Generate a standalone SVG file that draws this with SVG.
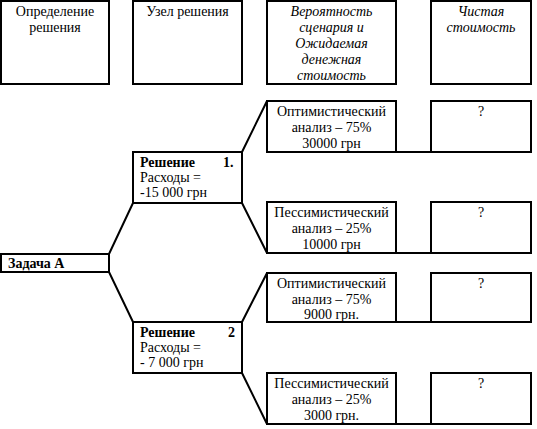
<svg xmlns="http://www.w3.org/2000/svg" width="537" height="429" viewBox="0 0 537 429">
<style>
.b{fill:#fff;stroke:#000;stroke-width:2}
.t{font-family:"Liberation Serif","Times New Roman",serif;font-size:14px;fill:#000}
.c{text-anchor:middle}
.i{font-style:italic}
.bo{font-weight:bold}
.l{stroke:#000;stroke-width:2;fill:none}
</style>
<rect width="537" height="429" fill="#fff"/>
<g id="h1"><rect class="b" x="1" y="1" width="108" height="83"/>
<text class="t c" x="55" y="16">Определение</text><text class="t c" x="55" y="32">решения</text></g>
<g id="h2"><rect class="b" x="133" y="1" width="109" height="83"/>
<text class="t c" x="187.5" y="16">Узел решения</text></g>
<g id="h3"><rect class="b" x="267" y="1" width="129" height="83"/>
<text class="t c i" x="331.5" y="16">Вероятность</text><text class="t c i" x="331.5" y="32">сценария и</text><text class="t c i" x="331.5" y="48">Ожидаемая</text><text class="t c i" x="331.5" y="64">денежная</text><text class="t c i" x="331.5" y="80">стоимость</text></g>
<g id="h4"><rect class="b" x="431" y="1" width="100" height="83"/>
<text class="t c i" x="481" y="16">Чистая</text><text class="t c i" x="481" y="32">стоимость</text></g>
<g id="connectors">
<path class="l" d="M109 254L133 203M109 272L133 322M242 152L267 101M242 203L267 253M242 322L267 273M242 373L267 424M396 152H431M396 253H431M396 322H431M396 424H431"/>
</g>
<g id="task"><rect class="b" x="1" y="254" width="108" height="18"/>
<text class="t bo" x="8" y="268">Задача А</text></g>
<g id="d1"><rect class="b" x="133" y="152" width="109" height="51"/>
<text class="t bo" x="140" y="167">Решение</text><text class="t bo" x="223" y="167">1.</text>
<text class="t" x="140" y="182">Расходы =</text><text class="t" x="140" y="197">-15 000 грн</text></g>
<g id="d2"><rect class="b" x="133" y="322" width="109" height="51"/>
<text class="t bo" x="140" y="337">Решение</text><text class="t bo" x="228" y="337">2</text>
<text class="t" x="140" y="352">Расходы =</text><text class="t" x="140" y="367">- 7 000 грн</text></g>
<g id="o1"><rect class="b" x="267" y="101" width="129" height="51"/>
<text class="t c" x="331.5" y="116">Оптимистический</text><text class="t c" x="331.5" y="132">анализ – 75%</text><text class="t c" x="331.5" y="148">30000 грн</text></g>
<g id="v1"><rect class="b" x="431" y="101" width="100" height="51"/><text class="t c" x="481" y="116">?</text></g>
<g id="p1"><rect class="b" x="267" y="202" width="129" height="51"/>
<text class="t c" x="331.5" y="217">Пессимистический</text><text class="t c" x="331.5" y="233">анализ – 25%</text><text class="t c" x="331.5" y="249">10000 грн</text></g>
<g id="v2"><rect class="b" x="431" y="202" width="100" height="51"/><text class="t c" x="481" y="217">?</text></g>
<g id="o2"><rect class="b" x="267" y="273" width="129" height="49"/>
<text class="t c" x="331.5" y="288">Оптимистический</text><text class="t c" x="331.5" y="304">анализ – 75%</text><text class="t c" x="331.5" y="319">9000 грн.</text></g>
<g id="v3"><rect class="b" x="431" y="273" width="100" height="49"/><text class="t c" x="481" y="288">?</text></g>
<g id="p2"><rect class="b" x="267" y="373" width="129" height="51"/>
<text class="t c" x="331.5" y="388">Пессимистический</text><text class="t c" x="331.5" y="404">анализ – 25%</text><text class="t c" x="331.5" y="420">3000 грн.</text></g>
<g id="v4"><rect class="b" x="431" y="373" width="100" height="51"/><text class="t c" x="481" y="388">?</text></g>
</svg>
